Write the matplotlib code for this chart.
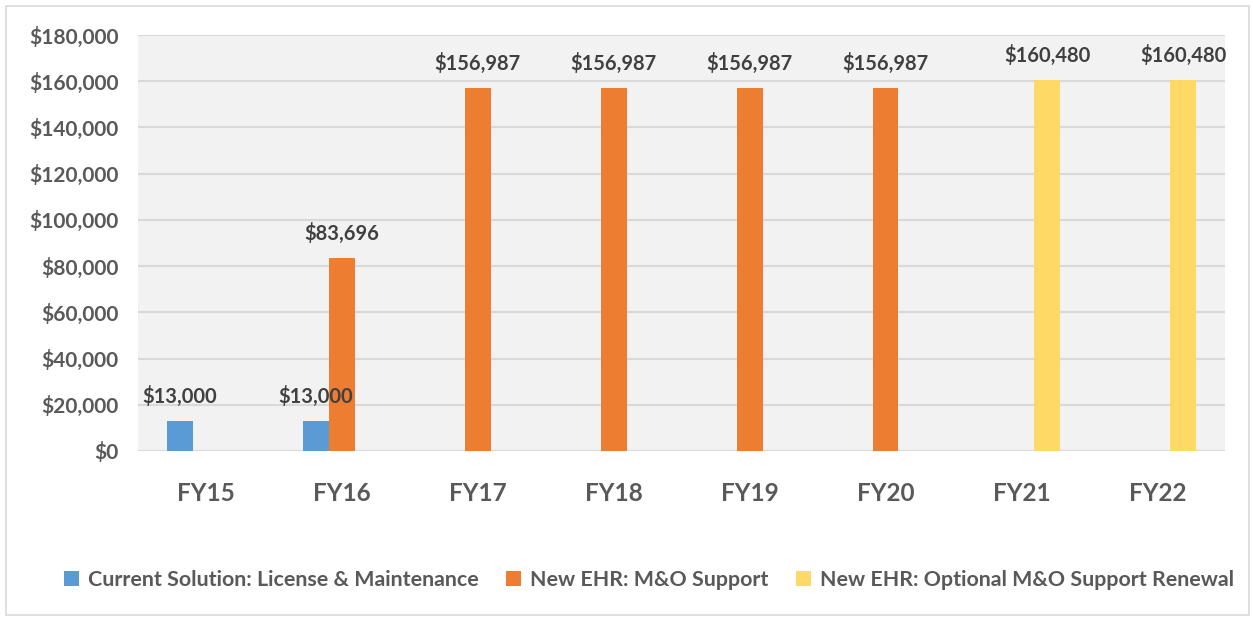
import matplotlib.pyplot as plt
import numpy as np
from matplotlib.patches import Rectangle
from matplotlib.ticker import FuncFormatter

plt.rcParams['font.family'] = ['Lato', 'DejaVu Sans']

years = ['FY15', 'FY16', 'FY17', 'FY18', 'FY19', 'FY20', 'FY21', 'FY22']
series_names = ['Current Solution: License & Maintenance',
                'New EHR: M&O Support',
                'New EHR: Optional M&O Support Renewal']
current = [13000, 13000, 0, 0, 0, 0, 0, 0]
new_ehr = [0, 83696, 156987, 156987, 156987, 156987, 0, 0]
renewal = [0, 0, 0, 0, 0, 0, 160480, 160480]
colors = ['#5B9BD5', '#ED7D31', '#FFD966']

fig = plt.figure(figsize=(12.53, 6.2), dpi=100)
fig.patches.append(Rectangle((0.005, 0.008), 0.992, 0.982, transform=fig.transFigure,
                             fill=False, edgecolor='#D9D9D9', lw=1.2))
ax = fig.add_axes([0.110, 0.2726, 0.868, 0.671])
ax.set_facecolor('#F2F2F2')

x = np.arange(len(years))
w = 0.19
txt = '#595959'
for i, (vals, name) in enumerate(zip([current, new_ehr, renewal], series_names)):
    pos = x + (i - 1) * w
    bars = ax.bar(pos, vals, w, color=colors[i], label=name, zorder=3)
    for p, v in zip(pos, vals):
        if v > 0:
            ax.text(p, v + 6000, '${:,.0f}'.format(v), ha='center', va='bottom',
                    fontsize=14.5, fontweight='bold', color='#404040', zorder=4)

ax.set_xlim(-0.5, len(years) - 0.5)
ax.set_ylim(0, 180000)
ax.set_yticks(np.arange(0, 180001, 20000))
ax.yaxis.set_major_formatter(FuncFormatter(lambda v, p: '${:,.0f}'.format(v)))
ax.set_xticks(x)
ax.set_xticklabels(years)
ax.grid(axis='y', color='#D9D9D9', lw=1.5, zorder=0)
for s in ax.spines.values():
    s.set_visible(False)
ax.tick_params(axis='y', length=0, pad=14, labelsize=15, labelcolor=txt)
ax.tick_params(axis='x', length=0, pad=22, labelsize=17.5, labelcolor=txt)
for lab in ax.get_xticklabels() + ax.get_yticklabels():
    lab.set_fontweight('bold')

fig.legend(loc='center', bbox_to_anchor=(0.518, 0.064), ncol=3, frameon=False,
           handlelength=0.7, handleheight=0.7, handletextpad=0.4, columnspacing=1.3,
           prop={'size': 15.4, 'weight': 'bold'}, labelcolor=txt)

fig.savefig('out.png', dpi=100)
